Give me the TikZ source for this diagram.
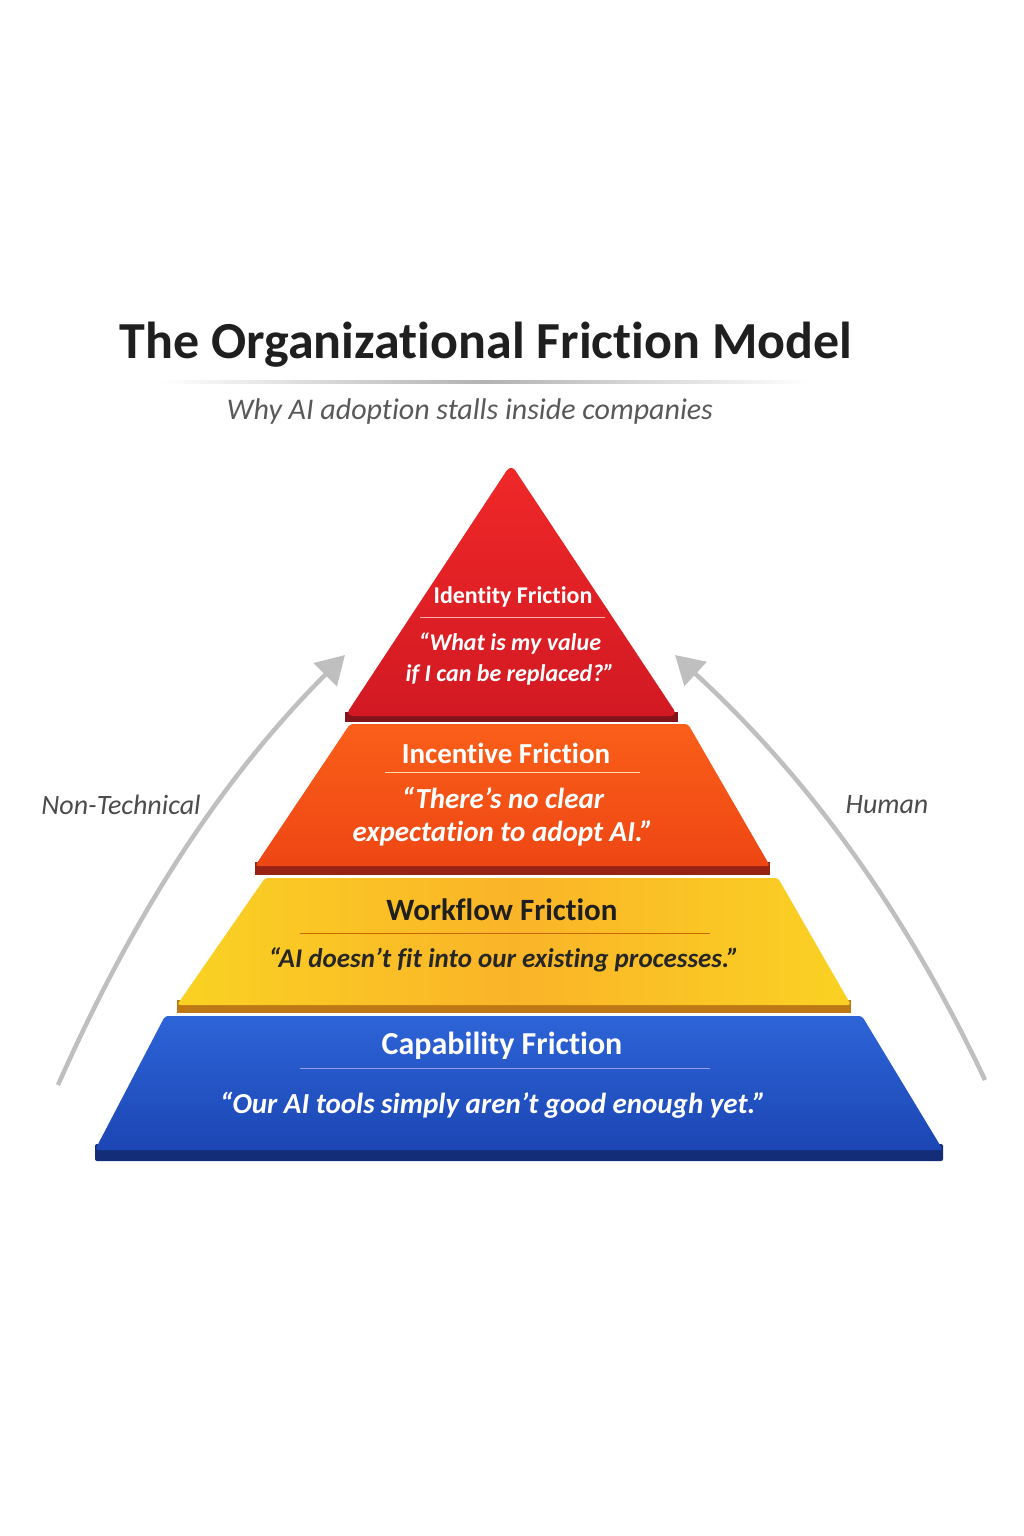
\documentclass[tikz,border=0pt]{standalone}
\usepackage{fontspec}
\setmainfont{Carlito}[Ligatures=NoCommon]
\usetikzlibrary{arrows.meta,shadows}
\definecolor{bl1}{RGB}{45,100,215}
\definecolor{bl2}{RGB}{28,70,180}
\definecolor{bld}{RGB}{20,45,120}
\definecolor{ye1}{RGB}{250,210,35}
\definecolor{ye2}{RGB}{250,180,40}
\definecolor{yed}{RGB}{190,120,20}
\definecolor{or1}{RGB}{250,95,25}
\definecolor{or2}{RGB}{238,70,20}
\definecolor{ord}{RGB}{150,35,20}
\definecolor{re1}{RGB}{240,40,40}
\definecolor{re2}{RGB}{210,25,35}
\definecolor{red2}{RGB}{130,20,25}
\begin{document}
\begin{tikzpicture}[x=1pt,y=-1pt,
  ttl/.style={font=\bfseries\fontsize{24}{26}\selectfont},
  qt/.style={font=\bfseries\itshape\fontsize{24}{31}\selectfont,align=center},
  sep/.style={line width=0.8pt},
  arr/.style={line width=4.5pt,draw=gray!50,-{Triangle[length=28pt,width=32pt]}},
  side/.style={font=\itshape\fontsize{28}{30}\selectfont,text=black!70}]
\fill[white!97!blue!1] (0,0) rectangle (1024,1536);
\useasboundingbox (0,0) rectangle (1024,1536);
% title
\node[font=\bfseries\fontsize{52}{56}\selectfont,text=black!88] (title) at (486,345) {The Organizational Friction Model};
\shade[left color=white,right color=white,middle color=gray!60] (160,380) rectangle (810,383);
\node[font=\itshape\fontsize{30}{32}\selectfont,text=black!65] (sub) at (470,411) {Why AI adoption stalls inside companies};
% arrows
\coordinate (l0) at (58,1085); \coordinate (l1) at (345,655);
\coordinate (r0) at (985,1080); \coordinate (r1) at (675,655);
\draw[arr] (l0) .. controls (140,900) and (230,770) .. (l1);
\draw[arr] (r0) .. controls (900,900) and (800,770) .. (r1);
\node[side] (nt) at (121,805) {Non-Technical};
\node[side] (hu) at (887,805) {Human};
% blue
\fill[bld,rounded corners=2pt] (95,1144) -- (943,1144) -- (943,1161) -- (95,1161) -- cycle;
\shade[top color=bl1,bottom color=bl2,rounded corners=3pt] (165,1016) -- (862,1016) -- (943,1150) -- (95,1150) -- cycle;
% yellow
\fill[yed] (177,1000) rectangle (851,1013);
\shade[left color=ye1,right color=ye1,middle color=ye2,rounded corners=3pt] (265,878) -- (778,878) -- (851,1005) -- (177,1005) -- cycle;
% orange
\fill[ord] (255,862) rectangle (770,875);
\shade[top color=or1,bottom color=or2,rounded corners=3pt] (350,724) -- (688,724) -- (770,866) -- (255,866) -- cycle;
% red
\fill[red2] (345,712) rectangle (678,722);
\shade[top color=re1,bottom color=re2,rounded corners=8pt] (511,464) -- (678,716) -- (345,716) -- cycle;
% texts
\node[ttl,text=white] (t1) at (513,597) {Identity Friction};
\draw[sep,white!70!red] (420,617) -- (605,617);
\node[qt,text=white] (q1) at (510,659) {“What is my value\\if I can be replaced?”};
\node[ttl,text=white,font=\bfseries\fontsize{29}{30}\selectfont] (t2) at (506,753) {Incentive Friction};
\draw[sep,white!70!orange] (385,772) -- (640,772);
\node[qt,text=white,font=\bfseries\itshape\fontsize{29}{33}\selectfont] (q2) at (503,817) {“There’s no clear\\expectation to adopt AI.”};
\node[ttl,text=black!88,font=\bfseries\fontsize{31}{32}\selectfont] (t3) at (502,910) {Workflow Friction};
\draw[sep,orange!80!black] (300,933) -- (710,933);
\node[qt,text=black!85,font=\bfseries\itshape\fontsize{27}{30}\selectfont] (q3) at (504,960) {“AI doesn’t fit into our existing processes.”};
\node[ttl,text=white,font=\bfseries\fontsize{32}{33}\selectfont] (t4) at (502,1046) {Capability Friction};
\draw[sep,white!60!blue] (300,1068) -- (710,1068);
\node[qt,text=white,font=\bfseries\itshape\fontsize{29}{32}\selectfont] (q4) at (493,1105) {“Our AI tools simply aren’t good enough yet.”};
\end{tikzpicture}
\end{document}
